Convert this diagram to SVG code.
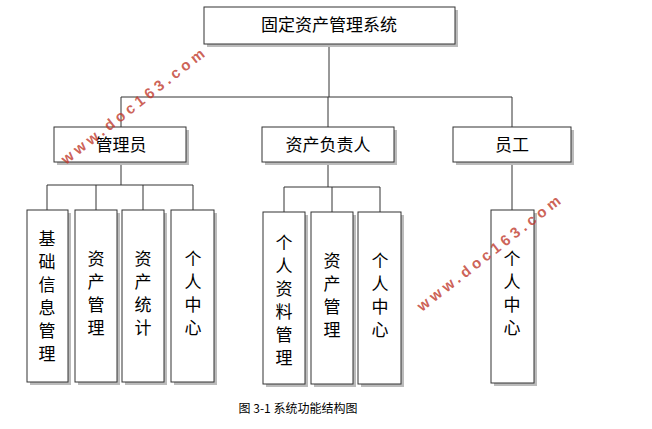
<svg xmlns="http://www.w3.org/2000/svg" width="652" height="429" viewBox="0 0 652 429">
<style>
.b{fill:#fff;stroke:#333;stroke-width:1}
.s{fill:#bbb}
.t{font-family:"Noto Sans CJK SC","Liberation Serif",serif;font-size:17px;fill:#000;text-anchor:middle}
.c{fill:none;stroke:#333;stroke-width:1}
.w{font-family:"Liberation Sans",sans-serif;font-size:15px;font-weight:bold;fill:#c0392b;fill-opacity:0.8;letter-spacing:4px}
</style>
<rect width="652" height="429" fill="#fff"/>
<g id="connectors">
<path class="c" d="M329 44V97M121 97H512M121 97V127M328 97V127M512 97V127"/>
<path class="c" d="M121 162V185M47 185H193M47 185V210M96 185V210M143 185V210M193 185V210"/>
<path class="c" d="M328 162V187M284 187H380M284 187V212M332 187V212M380 187V212"/>
<path class="c" d="M512 162V210"/>
</g>
<g id="root"><rect class="s" x="207" y="10" width="251" height="37"/><rect class="b" x="204" y="7" width="251" height="37"/><text class="t" x="329" y="31">固定资产管理系统</text></g>
<g id="admin"><rect class="s" x="57" y="130" width="132" height="35"/><rect class="b" x="54" y="127" width="132" height="35"/><text class="t" x="121" y="151">管理员</text></g>
<g id="owner"><rect class="s" x="265" y="130" width="132" height="35"/><rect class="b" x="262" y="127" width="132" height="35"/><text class="t" x="328" y="151">资产负责人</text></g>
<g id="staff"><rect class="s" x="456" y="130" width="118" height="35"/><rect class="b" x="453" y="127" width="118" height="35"/><text class="t" x="512" y="151">员工</text></g>
<g id="a1"><rect class="s" x="30" y="213" width="41" height="172"/><rect class="b" x="27" y="210" width="41" height="172"/><text class="t" x="47"><tspan x="47" y="245">基</tspan><tspan x="47" y="268">础</tspan><tspan x="47" y="291">信</tspan><tspan x="47" y="314">息</tspan><tspan x="47" y="337">管</tspan><tspan x="47" y="360">理</tspan></text></g>
<g id="a2"><rect class="s" x="78" y="213" width="42" height="172"/><rect class="b" x="75" y="210" width="42" height="172"/><text class="t"><tspan x="96" y="265">资</tspan><tspan x="96" y="288">产</tspan><tspan x="96" y="311">管</tspan><tspan x="96" y="334">理</tspan></text></g>
<g id="a3"><rect class="s" x="125" y="213" width="42" height="172"/><rect class="b" x="122" y="210" width="42" height="172"/><text class="t"><tspan x="143" y="265">资</tspan><tspan x="143" y="288">产</tspan><tspan x="143" y="311">统</tspan><tspan x="143" y="334">计</tspan></text></g>
<g id="a4"><rect class="s" x="174" y="213" width="43" height="172"/><rect class="b" x="171" y="210" width="43" height="172"/><text class="t"><tspan x="193" y="265">个</tspan><tspan x="193" y="288">人</tspan><tspan x="193" y="311">中</tspan><tspan x="193" y="334">心</tspan></text></g>
<g id="o1"><rect class="s" x="266" y="215" width="42" height="172"/><rect class="b" x="263" y="212" width="42" height="172"/><text class="t"><tspan x="284" y="249">个</tspan><tspan x="284" y="272">人</tspan><tspan x="284" y="295">资</tspan><tspan x="284" y="318">料</tspan><tspan x="284" y="341">管</tspan><tspan x="284" y="364">理</tspan></text></g>
<g id="o2"><rect class="s" x="314" y="215" width="42" height="172"/><rect class="b" x="311" y="212" width="42" height="172"/><text class="t"><tspan x="332" y="267">资</tspan><tspan x="332" y="290">产</tspan><tspan x="332" y="313">管</tspan><tspan x="332" y="336">理</tspan></text></g>
<g id="o3"><rect class="s" x="361" y="215" width="43" height="172"/><rect class="b" x="358" y="212" width="43" height="172"/><text class="t"><tspan x="380" y="267">个</tspan><tspan x="380" y="290">人</tspan><tspan x="380" y="313">中</tspan><tspan x="380" y="336">心</tspan></text></g>
<g id="s1"><rect class="s" x="494" y="213" width="43" height="173"/><rect class="b" x="491" y="210" width="43" height="173"/><text class="t"><tspan x="512" y="265">个</tspan><tspan x="512" y="288">人</tspan><tspan x="512" y="311">中</tspan><tspan x="512" y="334">心</tspan></text></g>
<text x="298" y="413" font-family="'Noto Sans CJK SC','Liberation Sans',sans-serif" font-size="12" text-anchor="middle">图 3-1 系统功能结构图</text>
<text class="w" transform="translate(66,165) rotate(-38)">www.doc163.com</text>
<text class="w" transform="translate(422,312) rotate(-38)">www.doc163.com</text>
</svg>
